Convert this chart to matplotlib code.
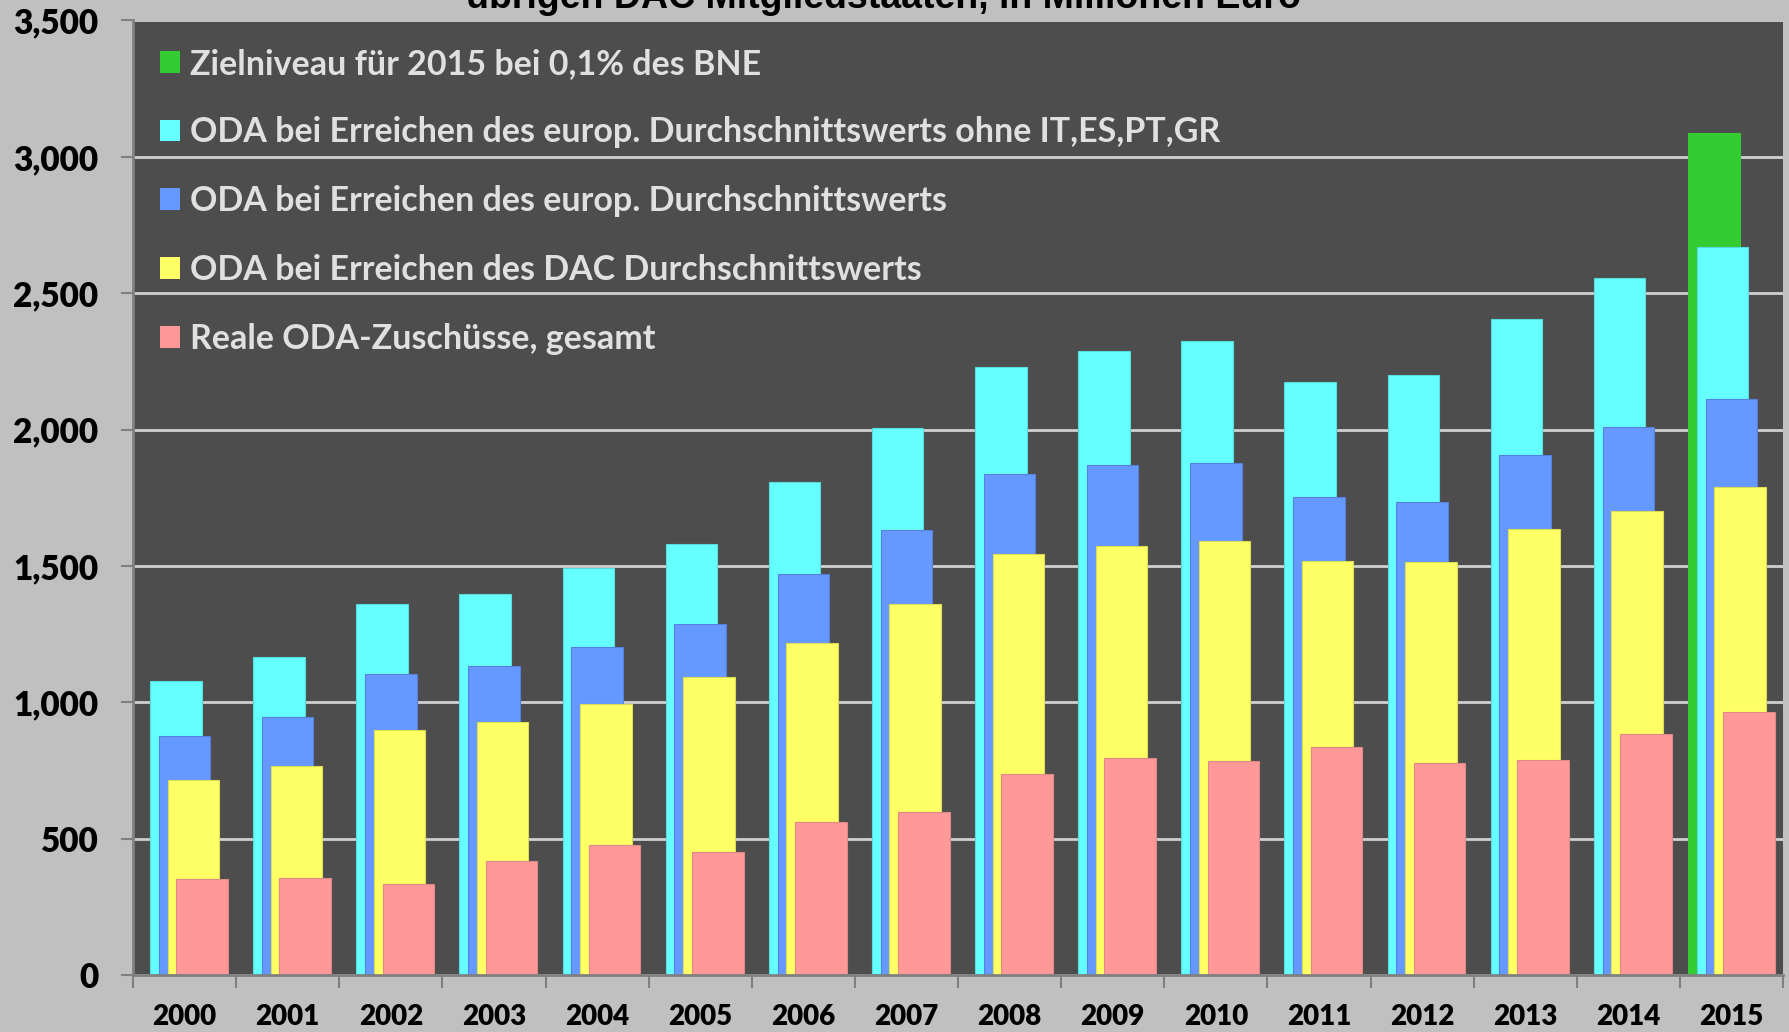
import numpy as np
import matplotlib
matplotlib.use("Agg")
import matplotlib.pyplot as plt
from matplotlib.ticker import StrMethodFormatter, FixedLocator
from matplotlib.patches import Patch

# ---- data (million euro) ----------------------------------------------------
years = [str(y) for y in range(2000, 2016)]
ziel = [0] * 15 + [3086]                     # only 2015 has a target bar
oda_eu_ohne = [1079, 1167, 1359, 1397, 1493, 1581, 1806, 2007,
               2229, 2287, 2325, 2174, 2200, 2404, 2555, 2668]
oda_eu = [878, 945, 1104, 1133, 1204, 1288, 1472, 1631,
          1836, 1869, 1878, 1752, 1735, 1907, 2011, 2112]
oda_dac = [715, 765, 899, 928, 995, 1091, 1217, 1359,
           1543, 1572, 1593, 1518, 1514, 1635, 1702, 1790]
reale_oda = [351, 355, 335, 418, 477, 452, 560, 598,
             736, 795, 786, 836, 778, 790, 882, 966]

labels = ["Zielniveau für 2015 bei 0,1% des BNE",
          "ODA bei Erreichen des europ. Durchschnittswerts ohne IT,ES,PT,GR",
          "ODA bei Erreichen des europ. Durchschnittswerts",
          "ODA bei Erreichen des DAC Durchschnittswerts",
          "Reale ODA-Zuschüsse, gesamt"]
colors = ["#33CC33", "#66FFFF", "#6699FF", "#FFFF66", "#FF9999"]
edges = ["#33CC33", "#55DDDD", "#5580DD", "#DDDD55", "#E08888"]
title_line = "übrigen DAC Mitgliedstaaten, in Millionen Euro"

BG = "#C0C0C0"
PLOT_BG = "#4D4D4D"

fig = plt.figure(figsize=(17.89, 10.32), dpi=100, facecolor=BG)
ax = fig.add_axes([133 / 1789, 1 - 975 / 1032, (1783 - 133) / 1789, (975 - 20.5) / 1032])
ax.set_facecolor(PLOT_BG)

x = np.arange(len(years))
series = [ziel, oda_eu_ohne, oda_eu, oda_dac, reale_oda]
offsets = [-0.17, -0.085, 0.0, 0.085, 0.17]
handles = []
for i, (vals, off) in enumerate(zip(series, offsets)):
    ax.bar(x + off, vals, width=0.5, color=colors[i], edgecolor=edges[i],
           linewidth=0.8, zorder=2 + i)
    handles.append(Patch(facecolor=colors[i], edgecolor="none", label=labels[i]))

ax.set_xlim(-0.5, len(years) - 0.5)
ax.set_ylim(0, 3500)
ax.yaxis.set_major_locator(FixedLocator(np.arange(0, 3501, 500)))
ax.yaxis.set_major_formatter(StrMethodFormatter("{x:,.0f}"))
ax.grid(axis="y", color="#D0D0D0", linewidth=2, zorder=1)
ax.set_axisbelow(True)

ax.set_xticks(x)
ax.set_xticklabels(years)
ax.set_xticks(np.arange(-0.5, len(years)), minor=True)
ax.tick_params(axis="x", which="major", length=0, pad=21, labelsize=20)
ax.tick_params(axis="x", which="minor", length=9, width=1.5, color="#808080")
ax.tick_params(axis="y", length=9, width=1.5, color="#808080", pad=16, labelsize=24)
for lab in ax.get_xticklabels() + ax.get_yticklabels():
    lab.set_fontfamily("Lato")
    lab.set_fontweight("heavy")
    lab.set_color("black")

for s in ["top", "right"]:
    ax.spines[s].set_visible(False)
for s in ["left", "bottom"]:
    ax.spines[s].set_color("#808080")
    ax.spines[s].set_linewidth(2)
    ax.spines[s].set_zorder(10)

leg = ax.legend(handles=handles, loc="upper left", bbox_to_anchor=(0.0, 1.0),
                frameon=False, prop={"family": "Lato", "weight": "bold", "size": 24.5},
                labelcolor="#E0E0E0", handlelength=0.57, handleheight=0.6,
                handletextpad=0.3, labelspacing=1.08, borderpad=0.4,
                borderaxespad=0.4)
leg.set_zorder(20)

fig.text(883 / 1789, 1 - 8 / 1032, title_line, ha="center", va="baseline",
         fontsize=27, fontweight="bold", family="Liberation Sans", color="black")

fig.savefig("out.png", dpi=100, facecolor=BG)
